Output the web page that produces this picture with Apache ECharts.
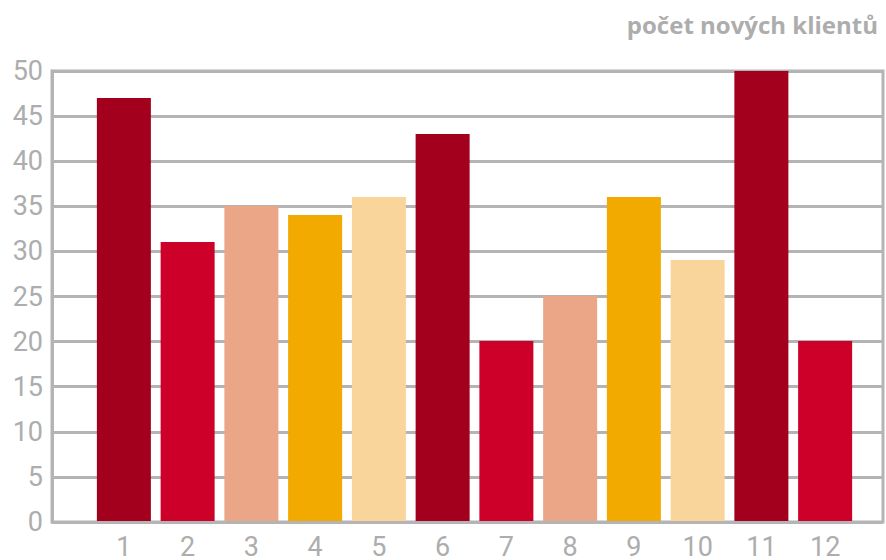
<!DOCTYPE html>
<html>
<head>
<meta charset="utf-8">
<script src="https://cdn.jsdelivr.net/npm/echarts@6/dist/echarts.min.js"></script>
<style>
  html, body { margin: 0; padding: 0; background: #fff; }
  #chart { width: 886px; height: 560px; }
</style>
</head>
<body>
<div id="chart"></div>
<script>
const categories = ['1', '2', '3', '4', '5', '6', '7', '8', '9', '10', '11', '12'];
const values = [47, 31, 35, 34, 36, 43, 20, 25, 36, 29, 50, 20];
const palette = ['#a3001e', '#cc0029', '#eba688', '#f2aa00', '#f9d59b'];
const title = 'počet nových klientů';

const gray = '#b4b4b4';
const textGray = '#adadad';
const font = 'Roboto';

const chart = echarts.init(document.getElementById('chart'), null, { renderer: 'svg' });

chart.setOption({
    animation: false,
    title: {
        text: title,
        right: 3,
        top: 7,
        textStyle: { color: textGray, fontSize: 24, fontWeight: 'bold', fontFamily: 'Open Sans' }
    },
    grid: [
        { left: 52, right: 3, top: 71, bottom: 38, show: true, borderColor: gray, borderWidth: 3 },
        { left: 92, right: 29, top: 71, bottom: 38 }
    ],
    xAxis: [
        { gridIndex: 0, type: 'value', show: false, min: 0, max: 1 },
        {
            gridIndex: 1,
            type: 'category',
            data: categories,
            axisLine: { show: false },
            axisTick: { show: false },
            axisLabel: { color: textGray, fontSize: 27, fontFamily: font, margin: 12 }
        }
    ],
    yAxis: [
        {
            gridIndex: 0,
            type: 'value',
            min: 0,
            max: 50,
            interval: 5,
            axisLine: { show: true, lineStyle: { color: gray, width: 3 } },
            axisTick: { show: false },
            splitLine: { lineStyle: { color: gray, width: 3 } },
            axisLabel: { color: textGray, fontSize: 27, fontFamily: font, margin: 9 }
        },
        { gridIndex: 1, type: 'value', min: 0, max: 50, show: false }
    ],
    series: [
        {
            type: 'bar',
            xAxisIndex: 1,
            yAxisIndex: 1,
            barWidth: 54,
            data: values.map((v, i) => ({
                value: v,
                itemStyle: { color: palette[i % palette.length] }
            }))
        }
    ]
});
</script>
</body>
</html>
